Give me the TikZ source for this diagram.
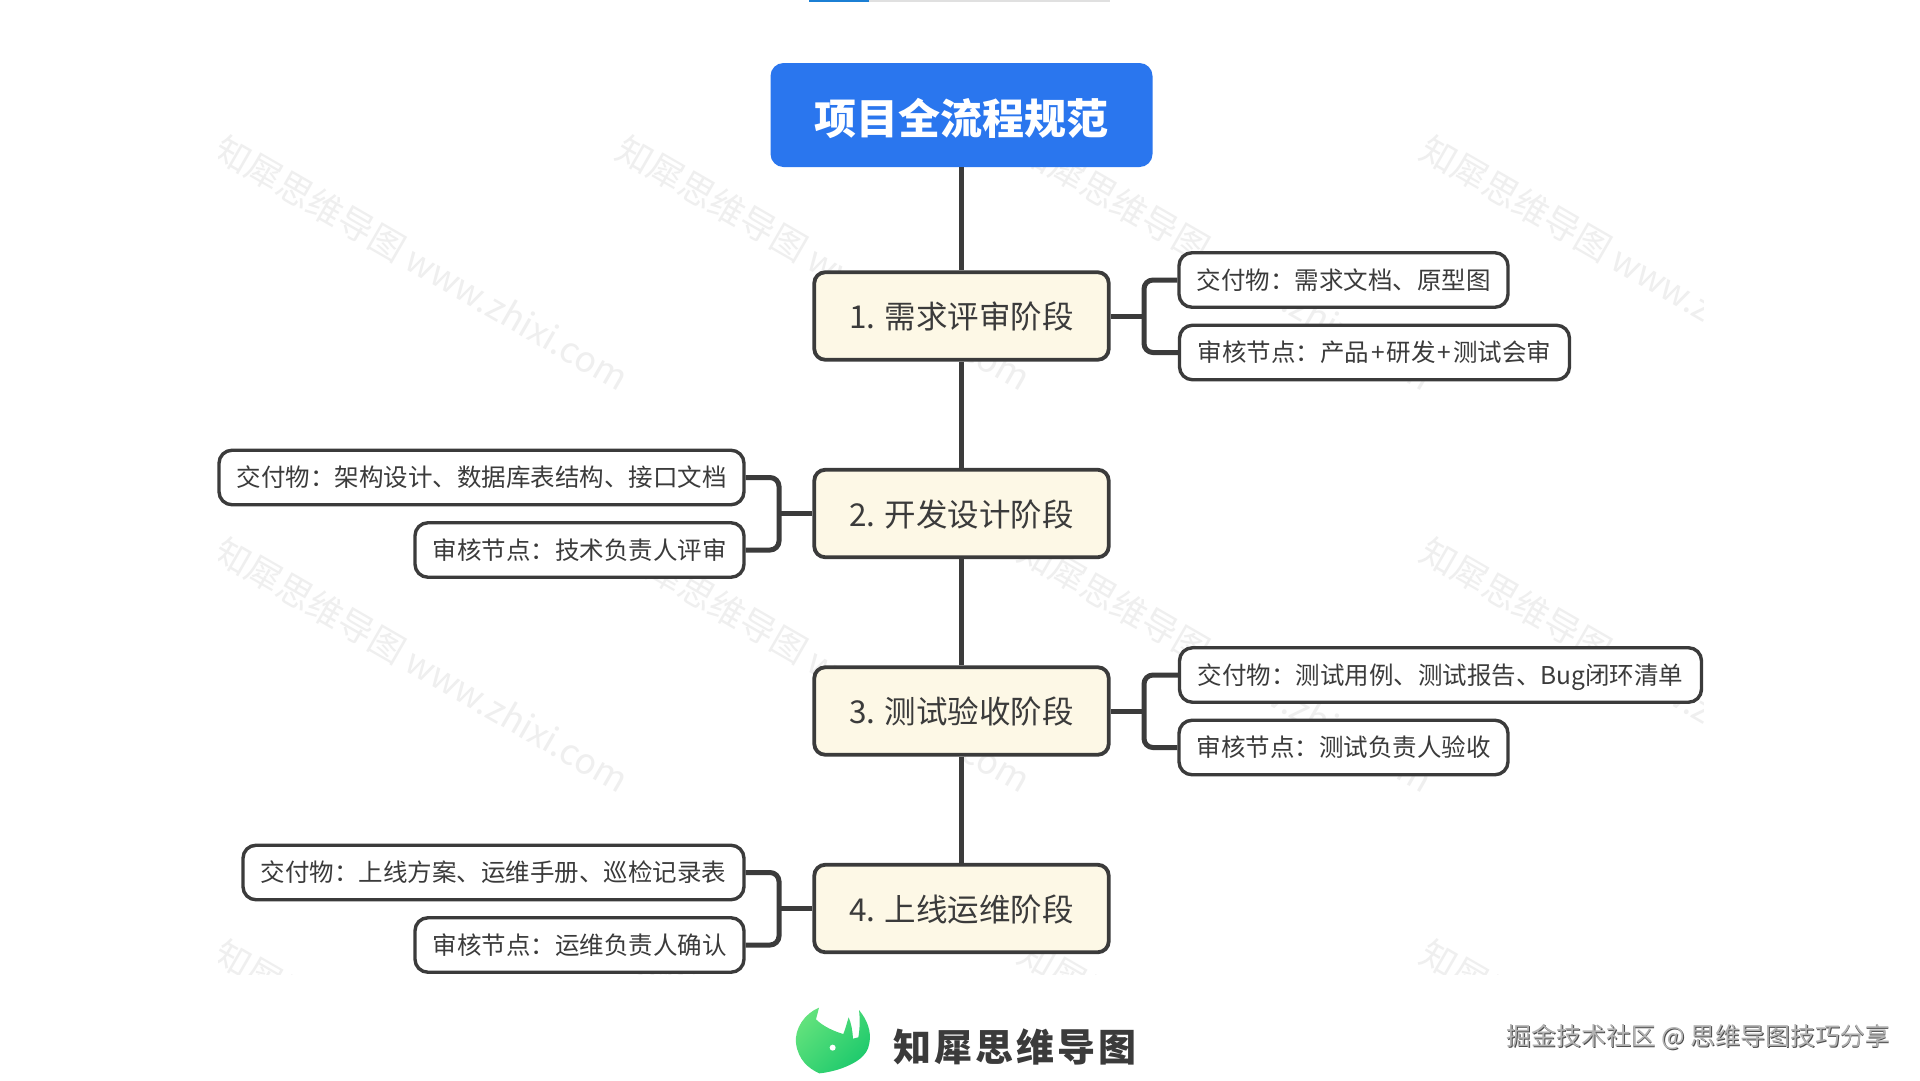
\documentclass[tikz,border=0pt]{standalone}
\usepackage{fontspec}
\setmainfont{Noto Sans CJK SC}
\newfontfamily\logofont[LetterSpace=8]{Noto Sans CJK SC}
\definecolor{ink}{HTML}{3B3B3B}
\definecolor{rootblue}{HTML}{2A76EE}
\definecolor{cream}{HTML}{FDF8E6}
\definecolor{wm}{HTML}{EFEFEF}
\definecolor{stripblue}{HTML}{1B7FD4}
\definecolor{logolight}{HTML}{62E27C}
\definecolor{logodark}{HTML}{1CC96C}
\tikzset{
  x=1pt,y=-1pt,
  rootbox/.style={rectangle,rounded corners=13pt,fill=rootblue,text=white,inner sep=0pt,minimum width=382pt,minimum height=104pt,text height=42pt,text depth=3pt,font=\fontsize{42}{50}\selectfont\bfseries},
  stagebox/.style={rectangle,rounded corners=11pt,draw=ink,line width=3.8pt,fill=cream,text=ink,inner sep=0pt,minimum width=294.5pt,minimum height=87.5pt,text height=28.3pt,text depth=3pt,font=\fontsize{31.5}{38}\selectfont},
  leafbox/.style={rectangle,rounded corners=13pt,draw=ink,line width=3.4pt,fill=white,text=ink,inner sep=0pt,minimum height=54.5pt,text height=21.3pt,text depth=3.2pt,font=\fontsize{24.5}{30}\selectfont},
  trunk/.style={draw=ink,line width=5pt},
  branch/.style={draw=ink,line width=5pt,rounded corners=9pt},
  wmark/.style={text=wm,rotate=-30,inner sep=0pt,font=\fontsize{35.4}{44}\selectfont},
}
\newcommand{\plusgap}{\kern1.9pt+\kern1.9pt}
\begin{document}
\begin{tikzpicture}
\useasboundingbox (0,0) rectangle (1920,1080);
\fill[white] (0,0) rectangle (1920,1080);
% top strip
\fill[black!12] (869,0) rectangle (1110,1.6);
\fill[stripblue] (809,0) rectangle (869,1.6);
% watermarks
\begin{scope}
\clip (218,130) rectangle (1703,974);
\foreach \c in {0,1,2,3}{\foreach \r in {0,1,2}{
  \node[wmark] (wm\c\r) at ({422+402*\c},{263+402*\r}) {知犀思维导图 www.zhixi.com};
}}
\end{scope}
% nodes
\node[rootbox] (root) at (961.5,115) {项目全流程规范};
\node[stagebox] (s1) at (961.5,316) {1. 需求评审阶段};
\node[stagebox] (s2) at (961.5,513.5) {2. 开发设计阶段};
\node[stagebox] (s3) at (961.5,711) {3. 测试验收阶段};
\node[stagebox] (s4) at (961.5,908.5) {4. 上线运维阶段};
\node[leafbox,minimum width=329pt] (a1) at (1343.5,280) {交付物：需求文档、原型图};
\node[leafbox,minimum width=390pt] (b1) at (1374.5,352.5) {审核节点：产品\plusgap 研发\plusgap 测试会审};
\node[leafbox,minimum width=525pt] (a2) at (481.5,477.5) {交付物：架构设计、数据库表结构、接口文档};
\node[leafbox,minimum width=329pt] (b2) at (579.5,550) {审核节点：技术负责人评审};
\node[leafbox,minimum width=522pt] (a3) at (1440.5,675) {交付物：测试用例、测试报告、Bug闭环清单};
\node[leafbox,minimum width=329pt] (b3) at (1343.5,747.5) {审核节点：测试负责人验收};
\node[leafbox,minimum width=501pt] (a4) at (493.5,872.5) {交付物：上线方案、运维手册、巡检记录表};
\node[leafbox,minimum width=329pt] (b4) at (579.5,945) {审核节点：运维负责人确认};
% spines
\coordinate (j1) at (1144,316);
\coordinate (j2) at (779,513.5);
\coordinate (j3) at (1144,711);
\coordinate (j4) at (779,908.5);
% connectors
\draw[trunk] (root.south) -- (s1.north);
\draw[trunk] (s1.south) -- (s2.north);
\draw[trunk] (s2.south) -- (s3.north);
\draw[trunk] (s3.south) -- (s4.north);
\draw[trunk] (s1.east) -- (j1);
\draw[trunk] (s2.west) -- (j2);
\draw[trunk] (s3.east) -- (j3);
\draw[trunk] (s4.west) -- (j4);
\draw[branch] (a1.west) -| (j1) |- (b1.west);
\draw[branch] (a2.east) -| (j2) |- (b2.east);
\draw[branch] (a3.west) -| (j3) |- (b3.west);
\draw[branch] (a4.east) -| (j4) |- (b4.east);
% logo
\begin{scope}[shift={(780,960)},x=0.3333pt,y=-0.3333pt]
\shade[left color=logolight,right color=logodark,shading angle=45]
 (117,143) -- (108,178) .. controls (130,200) and (165,215) .. (190,222)
 .. controls (197,205) and (200,190) .. (206,172)
 .. controls (214,190) and (218,215) .. (219,236)
 -- (235,232) .. controls (240,205) and (240,175) .. (237,150)
 .. controls (262,180) and (275,215) .. (268,250)
 .. controls (262,290) and (225,310) .. (185,325)
 .. controls (165,332) and (140,338) .. (118,340)
 .. controls (85,325) and (55,300) .. (48,250)
 .. controls (43,205) and (75,160) .. (117,143) -- cycle;
\fill[white] (158,263) circle (9);
\end{scope}
\node[text=ink,inner sep=0pt,font=\logofont\fontsize{38}{46}\selectfont\bfseries] (logo) at (1015,1047) {知犀思维导图};
% footer
\node[text=black!70,inner sep=0pt,font=\fontsize{24.9}{30}\selectfont] (footshadow) at (1699.1,1037.6) {掘金技术社区 @ 思维导图技巧分享};
\node[text=black!30,inner sep=0pt,font=\fontsize{24.9}{30}\selectfont] (foot) at (1698.5,1037) {掘金技术社区 @ 思维导图技巧分享};
\end{tikzpicture}
\end{document}
